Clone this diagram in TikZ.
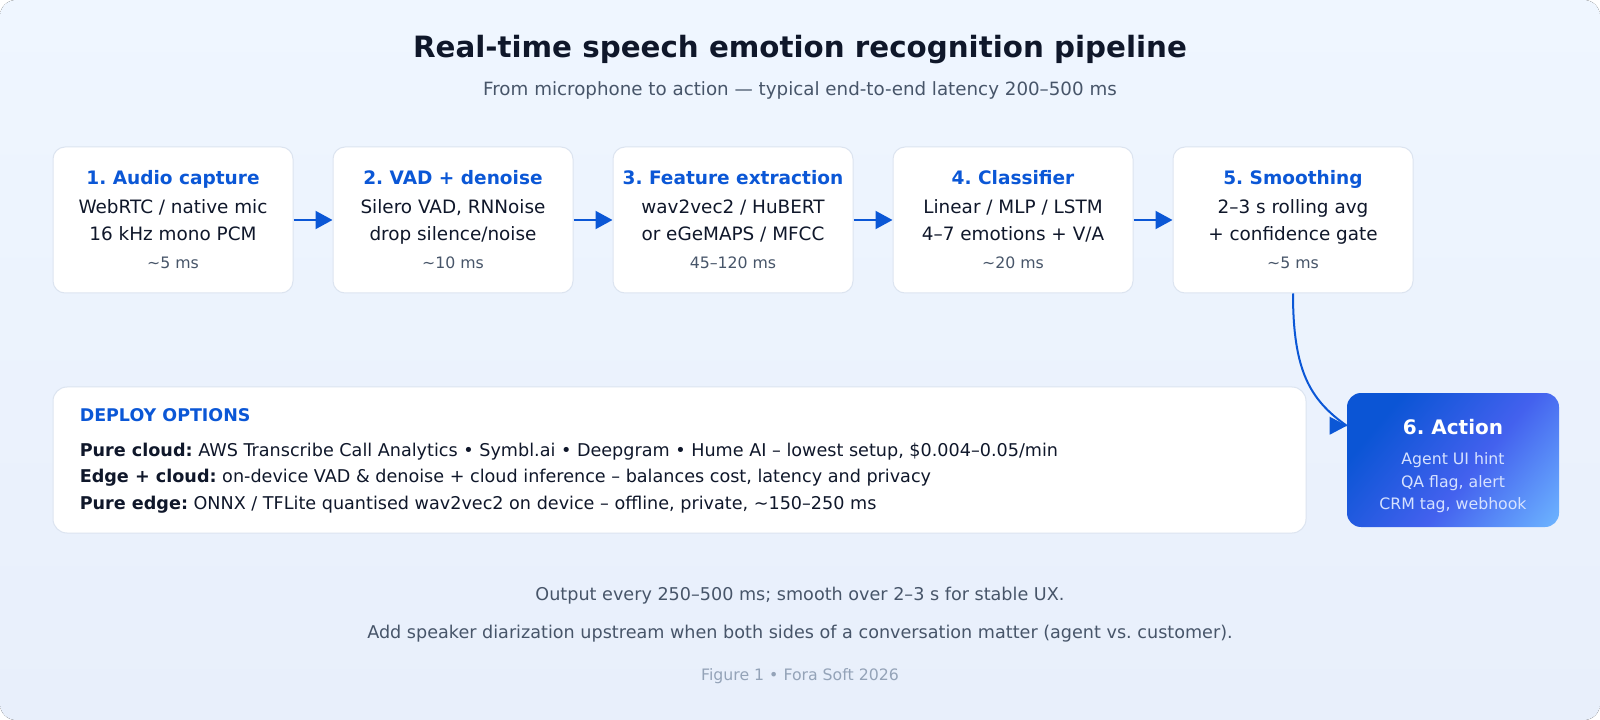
\documentclass[tikz,border=0pt]{standalone}
\usepackage{fontspec}
\setmainfont{DejaVu Sans}
\frenchspacing
\usepackage{tikz}
\usetikzlibrary{calc, positioning, arrows.meta}

\definecolor{bgtop}{HTML}{EFF6FF}
\definecolor{bgbot}{HTML}{E8EFFB}
\definecolor{ink}{HTML}{0F172A}
\definecolor{muted}{HTML}{475569}
\definecolor{faint}{HTML}{94A3B8}
\definecolor{accent}{HTML}{0B57D6}
\definecolor{edge}{HTML}{DCE4F0}
\definecolor{actA}{HTML}{0B55D5}
\definecolor{actB}{HTML}{4361EE}
\definecolor{actC}{HTML}{6CB2FF}
\definecolor{actsub}{HTML}{D6E2FF}

\pgfdeclarehorizontalshading{actshade}{100bp}{color(0bp)=(actA); color(27bp)=(actA); color(56bp)=(actB); color(84bp)=(actC); color(100bp)=(actC)}

\tikzset{
    stage/.style={draw=edge, line width=0.75pt, fill=white, rounded corners=9pt,
        minimum width=180pt, minimum height=109.5pt, inner sep=0pt},
    stagetitle/.style={anchor=mid, inner sep=0pt, text=accent, font=\fontsize{13.9}{16}\selectfont\bfseries},
    stagebody/.style={anchor=mid, inner sep=0pt, text=ink, font=\fontsize{13.8}{16}\selectfont},
    stagetime/.style={anchor=mid, inner sep=0pt, text=muted, font=\fontsize{11.8}{14}\selectfont},
    flow/.style={draw=accent, line width=1.5pt, -{Triangle[length=12.75pt, width=13.5pt]}},
    deployline/.style={anchor=mid west, inner sep=0pt, text=ink, font=\fontsize{13.2}{15}\selectfont},
    actline/.style={anchor=mid, inner sep=0pt, text=actsub, font=\fontsize{11.8}{14}\selectfont},
    note/.style={anchor=mid, inner sep=0pt, text=muted, font=\fontsize{13.2}{15}\selectfont},
}

\begin{document}
\begin{tikzpicture}[x=0.75pt, y=-0.75pt]
    \useasboundingbox (0,0) rectangle (1600,720);
    \fill[rounded corners=12pt, top color=bgtop, bottom color=bgbot] (0,0) rectangle (1600,720);

    % heading
    \node[anchor=mid, inner sep=0pt, text=ink, font=\fontsize{22}{26}\selectfont\bfseries] (title) at (800,54)
        {Real-time speech emotion recognition pipeline};
    \node[anchor=mid, inner sep=0pt, text=muted, font=\fontsize{13.7}{17}\selectfont] (subtitle) at (800,92)
        {From microphone to action — typical end-to-end latency 200–500 ms};

    % pipeline stages
    \node[stage] (s1) at (173,220) {};
    \node[stage] (s2) at (453,220) {};
    \node[stage] (s3) at (733,220) {};
    \node[stage] (s4) at (1013,220) {};
    \node[stage] (s5) at (1293,220) {};

    \node[stagetitle] (s1t) at ($(s1.north)+(0,34)$) {1. Audio capture};
    \node[stagebody] (s1a) at ($(s1.north)+(0,63.5)$) {WebRTC / native mic};
    \node[stagebody] (s1b) at ($(s1.north)+(0,90)$) {16 kHz mono PCM};
    \node[stagetime] (s1l) at ($(s1.north)+(0,118.5)$) {\textasciitilde5 ms};

    \node[stagetitle] (s2t) at ($(s2.north)+(0,34)$) {2. VAD + denoise};
    \node[stagebody] (s2a) at ($(s2.north)+(0,63.5)$) {Silero VAD, RNNoise};
    \node[stagebody] (s2b) at ($(s2.north)+(0,90)$) {drop silence/noise};
    \node[stagetime] (s2l) at ($(s2.north)+(0,118.5)$) {\textasciitilde10 ms};

    \node[stagetitle] (s3t) at ($(s3.north)+(0,34)$) {3. Feature extraction};
    \node[stagebody] (s3a) at ($(s3.north)+(0,63.5)$) {wav2vec2 / HuBERT};
    \node[stagebody] (s3b) at ($(s3.north)+(0,90)$) {or eGeMAPS / MFCC};
    \node[stagetime] (s3l) at ($(s3.north)+(0,118.5)$) {45–120 ms};

    \node[stagetitle] (s4t) at ($(s4.north)+(0,34)$) {4. Classifier};
    \node[stagebody] (s4a) at ($(s4.north)+(0,63.5)$) {Linear / MLP / LSTM};
    \node[stagebody] (s4b) at ($(s4.north)+(0,90)$) {4–7 emotions + V/A};
    \node[stagetime] (s4l) at ($(s4.north)+(0,118.5)$) {\textasciitilde20 ms};

    \node[stagetitle] (s5t) at ($(s5.north)+(0,34)$) {5. Smoothing};
    \node[stagebody] (s5a) at ($(s5.north)+(0,63.5)$) {2–3 s rolling avg};
    \node[stagebody] (s5b) at ($(s5.north)+(0,90)$) {+ confidence gate};
    \node[stagetime] (s5l) at ($(s5.north)+(0,118.5)$) {\textasciitilde5 ms};

    \draw[flow] (s1.east) -- (s2.west);
    \draw[flow] (s2.east) -- (s3.west);
    \draw[flow] (s3.east) -- (s4.west);
    \draw[flow] (s4.east) -- (s5.west);

    % deploy options
    \node[stage, rounded corners=10.5pt, minimum width=939.75pt] (deploy) at (679.5,460) {};
    \node[anchor=mid west, inner sep=0pt, text=accent, font=\fontsize{13.1}{15}\selectfont\bfseries] (dhead)
        at ($(deploy.north west)+(27,31)$) {DEPLOY OPTIONS};
    \node[deployline] (d1) at ($(deploy.north west)+(27,66)$)
        {\textbf{Pure cloud:} AWS Transcribe Call Analytics • Symbl.ai • Deepgram • Hume AI – lowest setup, \$0.004–0.05/min};
    \node[deployline] (d2) at ($(deploy.north west)+(27,92)$)
        {\textbf{Edge + cloud:} on-device VAD \& denoise + cloud inference – balances cost, latency and privacy};
    \node[deployline] (d3) at ($(deploy.north west)+(27,119)$)
        {\textbf{Pure edge:} ONNX / TFLite quantised wav2vec2 on device – offline, private, \textasciitilde150–250 ms};

    % action
    \node[rounded corners=10.5pt, shading=actshade, shading angle=-40, minimum width=159pt,
        minimum height=100.5pt, inner sep=0pt] (act) at (1453,460) {};
    \node[anchor=mid, inner sep=0pt, text=white, font=\fontsize{15}{18}\selectfont\bfseries] (actt)
        at ($(act.north)+(0,38)$) {6. Action};
    \node[actline] (act1) at ($(act.north)+(0,68)$) {Agent UI hint};
    \node[actline] (act2) at ($(act.north)+(0,91)$) {QA flag, alert};
    \node[actline] (act3) at ($(act.north)+(0,113)$) {CRM tag, webhook};

    \coordinate (acttip) at ($(act.north west)+(0,33)$);
    \draw[accent, line width=1.5pt] (s5.south) .. controls +(0,77) and +(-37,-26) .. (acttip);
    \fill[accent] (acttip) -- ++(-17,-9) -- ++(0,18) -- cycle;

    % notes
    \node[note] (n1) at (800,597) {Output every 250–500 ms; smooth over 2–3 s for stable UX.};
    \node[note] (n2) at (800,634.5) {Add speaker diarization upstream when both sides of a conversation matter (agent vs. customer).};
    \node[anchor=mid, inner sep=0pt, text=faint, font=\fontsize{11.8}{14}\selectfont] (fig) at (800,677) {Figure 1 • Fora Soft 2026};
\end{tikzpicture}
\end{document}
